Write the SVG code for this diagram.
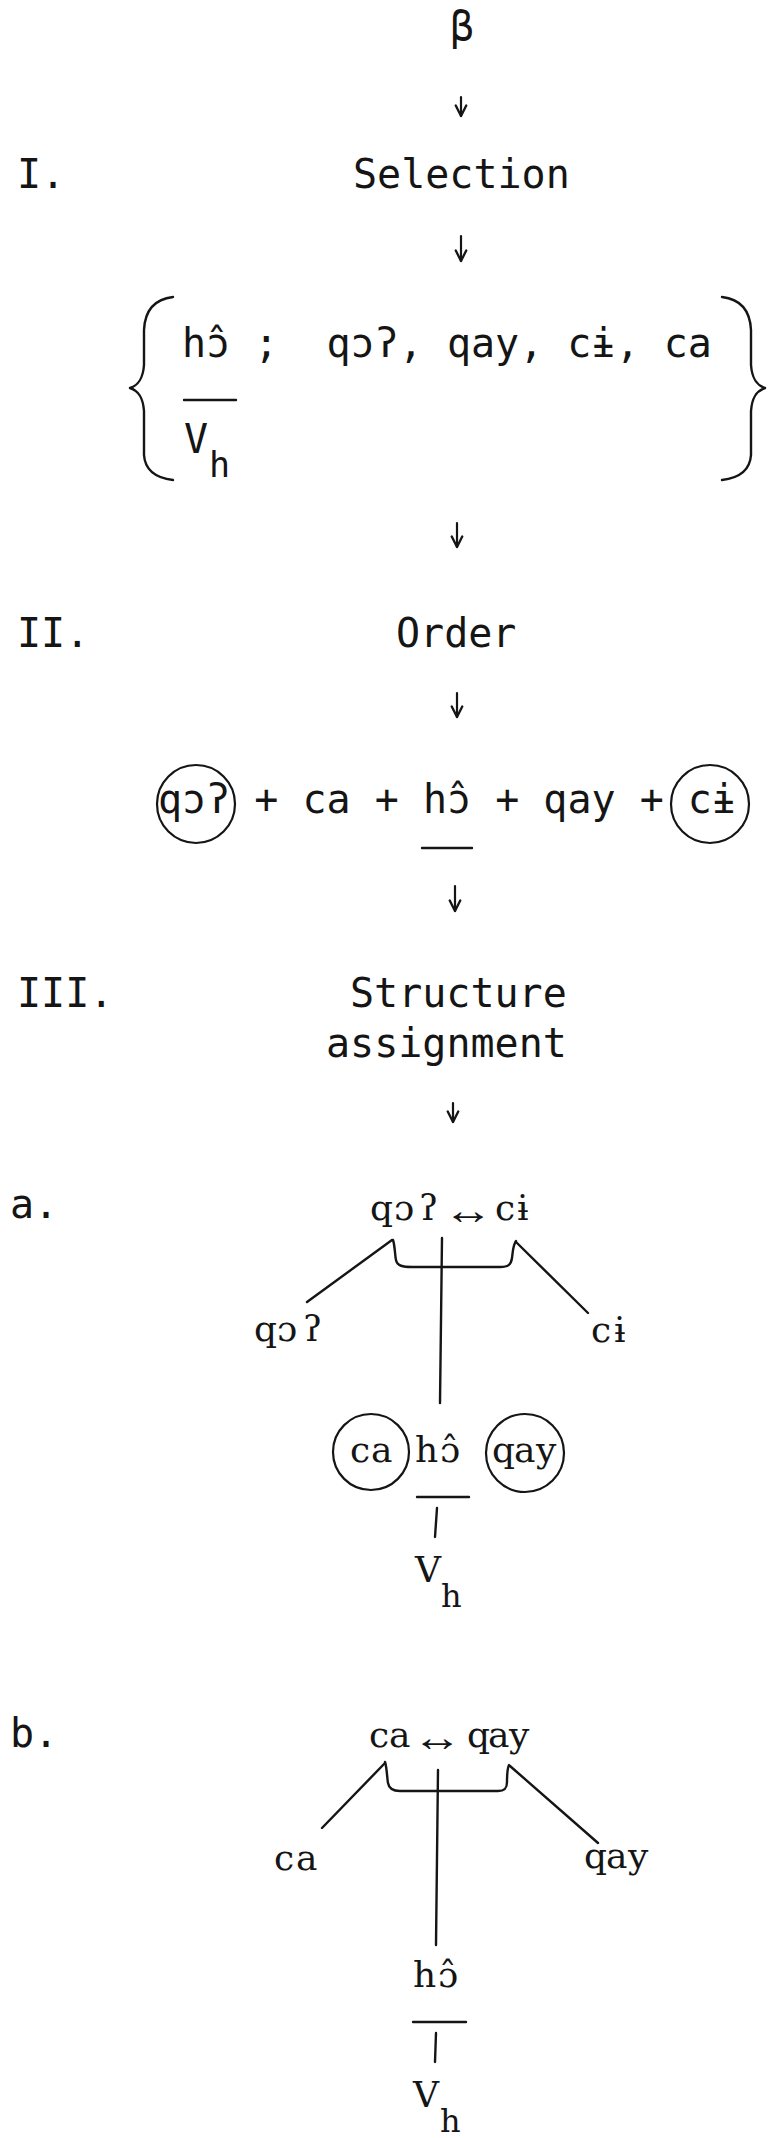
<svg xmlns="http://www.w3.org/2000/svg" width="769" height="2138" viewBox="0 0 769 2138">
<style>
.tw{font-family:"DejaVu Sans Mono","Liberation Mono",monospace;font-size:40px;fill:#151515}
.sr{font-family:"DejaVu Serif","Liberation Serif",serif;font-size:36px;fill:#151515}
.sub{font-size:32px}
.tws{font-size:35px}
.arr{font-family:"Liberation Serif","DejaVu Serif",serif;font-size:40px;fill:#151515}
.ln{fill:none;stroke:#151515;stroke-width:2.4;stroke-linecap:round;stroke-linejoin:round}
.ov{fill:none;stroke:#151515;stroke-width:2.2}
.ar{fill:none;stroke:#151515;stroke-width:2.2;stroke-linecap:round}
</style>
<defs>
<marker id="ah" markerUnits="userSpaceOnUse" markerWidth="14" markerHeight="14" viewBox="0 0 12 12" refX="10" refY="6" orient="auto">
<path d="M1,1.5 L10,6 L1,10.5" fill="none" stroke="#151515" stroke-width="2" stroke-linecap="round" stroke-linejoin="round"/>
</marker>
</defs>
<rect width="769" height="2138" fill="#fff"/>

<g id="n-beta"><text class="tw" x="462" y="40" text-anchor="middle" font-size="30">β</text></g>
<g id="n-label-I"><text class="tw" x="17" y="188">I.</text></g>
<g id="n-selection"><text class="tw" x="353" y="188">Selection</text></g>

<g id="n-set">
<path class="ln" d="M173,297 C156,299 145,308 144,330 L144,365 C143,378 139,385 130,388 C139,391 143,398 144,411 L144,455 C145,470 156,478 173,480"/>
<path class="ln" d="M722,297 C739,299 750,308 751,330 L751,365 C752,378 756,385 765,388 C756,391 752,398 751,411 L751,455 C750,470 739,478 722,480"/>
<text class="tw" x="182" y="357" xml:space="preserve">hɔ̂ ;  qɔʔ, qay, cɨ, ca</text>
<line class="ln" x1="184" y1="400" x2="236" y2="400"/>
<text class="tw" x="184" y="453">V</text>
<text class="tw tws" x="209" y="477">h</text>
</g>

<g id="n-label-II"><text class="tw" x="17" y="647">II.</text></g>
<g id="n-order"><text class="tw" x="396" y="647">Order</text></g>

<g id="n-sequence">
<circle class="ov" cx="196" cy="804" r="39"/>
<circle class="ov" cx="710" cy="804" r="39"/>
<text class="tw" x="158" y="813" xml:space="preserve">qɔʔ + ca + hɔ̂ + qay + cɨ</text>
<line class="ln" x1="422" y1="848" x2="472" y2="848"/>
</g>

<g id="n-label-III"><text class="tw" x="17" y="1007">III.</text></g>
<g id="n-structure">
<text class="tw" x="350" y="1007">Structure</text>
<text class="tw" x="326" y="1057">assignment</text>
</g>

<g id="n-label-a"><text class="tw" x="10" y="1218">a.</text></g>
<g id="n-a-top">
<text class="sr" y="1220"><tspan x="370">q</tspan><tspan x="394">ɔ</tspan><tspan x="419">ʔ</tspan></text>
<text class="arr" x="0" y="0" text-anchor="middle" transform="translate(468,1224) scale(1.25,1)">↔</text>
<text class="sr" y="1220"><tspan x="495">c</tspan><tspan x="517">ɨ</tspan></text>
</g>
<g id="n-a-left"><text class="sr" y="1341"><tspan x="254">q</tspan><tspan x="277">ɔ</tspan><tspan x="303">ʔ</tspan></text></g>
<g id="n-a-right"><text class="sr" y="1342"><tspan x="591">c</tspan><tspan x="614">ɨ</tspan></text></g>
<g id="n-a-head">
<circle class="ov" cx="371" cy="1452" r="38"/>
<circle class="ov" cx="525" cy="1453" r="39"/>
<text class="sr" y="1462"><tspan x="350">c</tspan><tspan x="371">a</tspan></text>
<text class="sr" y="1462"><tspan x="415">h</tspan><tspan x="440">ɔ̂</tspan></text>
<text class="sr" y="1462"><tspan x="492">q</tspan><tspan x="514">a</tspan><tspan x="536">y</tspan></text>
<line class="ln" x1="417" y1="1497" x2="469" y2="1497"/>
<line class="ln" x1="437" y1="1508" x2="435" y2="1537"/>
<text class="sr" x="415" y="1582">V</text>
<text class="sr sub" x="441" y="1607">h</text>
</g>

<g id="n-label-b"><text class="tw" x="10" y="1747">b.</text></g>
<g id="n-b-top">
<text class="sr" y="1747"><tspan x="369">c</tspan><tspan x="389">a</tspan></text>
<text class="arr" x="0" y="0" text-anchor="middle" transform="translate(437,1751) scale(1.25,1)">↔</text>
<text class="sr" y="1747"><tspan x="467">q</tspan><tspan x="488">a</tspan><tspan x="509">y</tspan></text>
</g>
<g id="n-b-left"><text class="sr" y="1870"><tspan x="274">c</tspan><tspan x="296">a</tspan></text></g>
<g id="n-b-right"><text class="sr" y="1868"><tspan x="584">q</tspan><tspan x="606">a</tspan><tspan x="628">y</tspan></text></g>
<g id="n-b-head">
<text class="sr" y="1987"><tspan x="413">h</tspan><tspan x="438">ɔ̂</tspan></text>
<line class="ln" x1="413" y1="2022" x2="466" y2="2022"/>
<line class="ln" x1="436" y1="2033" x2="435" y2="2062"/>
<text class="sr" x="413" y="2107">V</text>
<text class="sr sub" x="440" y="2132">h</text>
</g>

<g id="connectors">
<line class="ar" x1="461" y1="97" x2="461" y2="116" marker-end="url(#ah)"/>
<line class="ar" x1="461" y1="236" x2="461" y2="261" marker-end="url(#ah)"/>
<line class="ar" x1="457" y1="523" x2="457" y2="547" marker-end="url(#ah)"/>
<line class="ar" x1="457" y1="693" x2="457" y2="717" marker-end="url(#ah)"/>
<line class="ar" x1="455" y1="886" x2="455" y2="911" marker-end="url(#ah)"/>
<line class="ar" x1="453" y1="1103" x2="453" y2="1122" marker-end="url(#ah)"/>
<path class="ln" d="M393,1240 C395,1246 395,1256 396,1260 C397,1266 403,1267 412,1267 L500,1267 C508,1267 511,1265 512,1258 C513,1250 513,1245 516,1241"/>
<line class="ln" x1="392" y1="1240" x2="307" y2="1302"/>
<line class="ln" x1="516" y1="1242" x2="588" y2="1313"/>
<line class="ln" x1="442" y1="1238" x2="440" y2="1403"/>
<path class="ln" d="M385,1762 C387,1768 387,1778 388,1783 C389,1789 393,1791 400,1791 L498,1791 C505,1791 507,1788 507,1782 C507,1775 507,1769 509,1765"/>
<line class="ln" x1="385" y1="1763" x2="322" y2="1828"/>
<line class="ln" x1="510" y1="1766" x2="598" y2="1843"/>
<line class="ln" x1="438" y1="1770" x2="436" y2="1945"/>
</g>
</svg>
